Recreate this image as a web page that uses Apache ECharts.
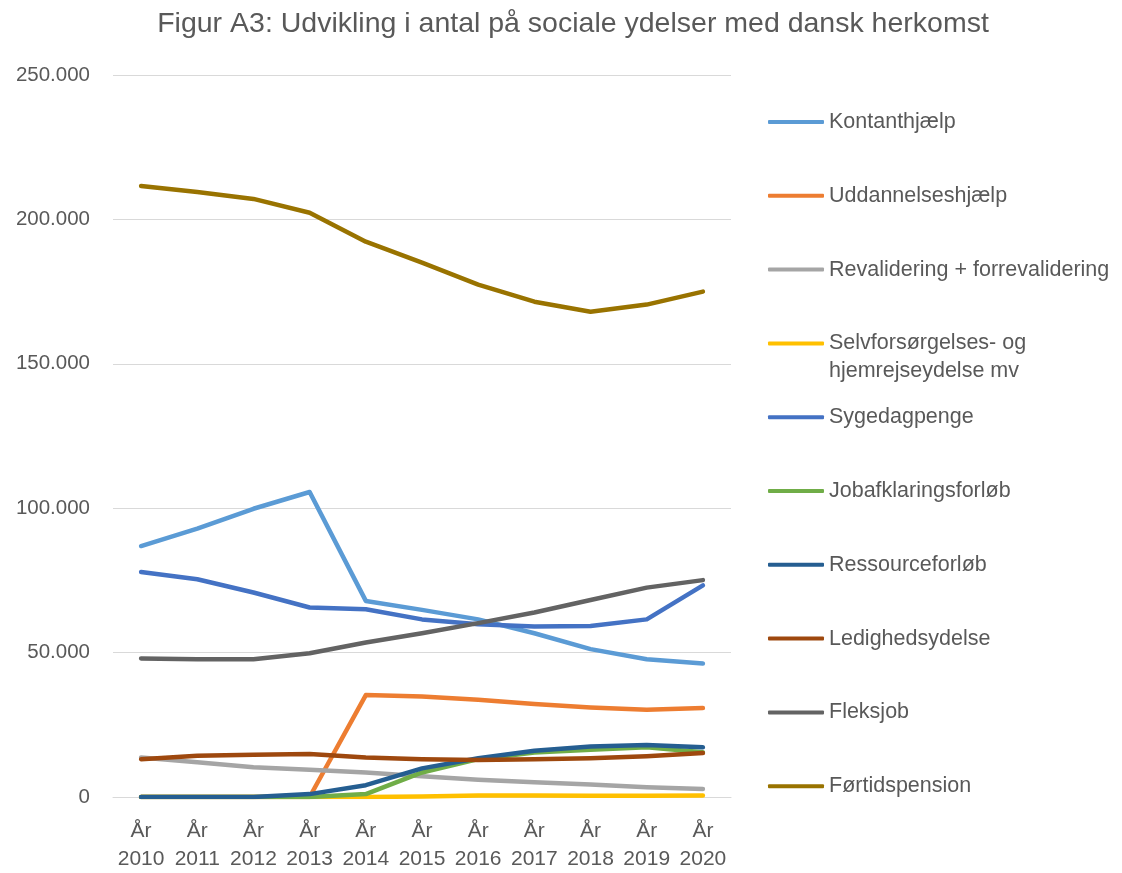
<!DOCTYPE html>
<html>
<head>
<meta charset="utf-8">
<title>Figur A3</title>
<script src="https://cdn.jsdelivr.net/npm/echarts@6/dist/echarts.min.js"></script>
<style>
  html, body { margin: 0; padding: 0; background: #fff; }
  #chart { width: 1122px; height: 873px; }
</style>
</head>
<body>
<div id="chart"></div>
<script>
// kategorier (år)
const years = ['2010', '2011', '2012', '2013', '2014', '2015', '2016', '2017', '2018', '2019', '2020']

// antal personer
const kontanthjaelp = [86900, 92900, 99800, 105600, 67900, 64800, 61500, 56700, 51200, 47700, 46200]
const uddannelseshjaelp = [0, 0, 0, 0, 35300, 34800, 33700, 32200, 31000, 30200, 30800]
const revalidering = [13700, 12000, 10300, 9400, 8500, 7200, 6000, 5100, 4300, 3400, 2800]
const selvforsorgelse = [0, 0, 0, 0, 0, 200, 500, 500, 400, 400, 500]
const sygedagpenge = [77900, 75400, 70800, 65600, 65000, 61500, 59800, 59000, 59200, 61500, 73300]
const jobafklaring = [0, 0, 0, 0, 1000, 8500, 13100, 15400, 16400, 17200, 15500]
const ressourceforlob = [0, 0, 0, 1000, 4100, 9900, 13400, 16000, 17500, 18000, 17200]
const ledighedsydelse = [13100, 14300, 14600, 14900, 13700, 13100, 12800, 13100, 13400, 14100, 15200]
const fleksjob = [48000, 47700, 47700, 49800, 53500, 56700, 60200, 63900, 68200, 72500, 75100]
const fortidspension = [211600, 209500, 207100, 202300, 192300, 185000, 177400, 171500, 168000, 170500, 175000]

const seriesList = [
    { name: 'Kontanthjælp', color: '#5B9BD5', data: kontanthjaelp },
    { name: 'Uddannelseshjælp', color: '#ED7D31', data: uddannelseshjaelp },
    { name: 'Revalidering + forrevalidering', color: '#A5A5A5', data: revalidering },
    { name: 'Selvforsørgelses- og hjemrejseydelse mv', color: '#FFC000', data: selvforsorgelse },
    { name: 'Sygedagpenge', color: '#4472C4', data: sygedagpenge },
    { name: 'Jobafklaringsforløb', color: '#70AD47', data: jobafklaring },
    { name: 'Ressourceforløb', color: '#255E91', data: ressourceforlob },
    { name: 'Ledighedsydelse', color: '#9E480E', data: ledighedsydelse },
    { name: 'Fleksjob', color: '#636363', data: fleksjob },
    { name: 'Førtidspension', color: '#997300', data: fortidspension }
]

const FONT = 'Liberation Sans'
const TXT = '#595959'

// én legend pr. serie, så afstanden bliver ens som i Excel
// den lange tekst får en tom linje foran, så stregen står ud for første linje
const legends = seriesList.map((s, i) => {
    const twoLines = s.name.indexOf('hjemrejse') > -1
    const yc = 122 + i * 73.8
    return {
        orient: 'vertical',
        left: 768,
        top: twoLines ? yc - 42 : yc - 14,
        padding: 0,
        icon: 'roundRect',
        itemWidth: 56,
        itemHeight: 4,
        data: [s.name],
        formatter: name => twoLines ? '\nSelvforsørgelses- og\nhjemrejseydelse mv' : name,
        textStyle: {
            fontFamily: FONT,
            fontSize: 21.5,
            color: TXT,
            lineHeight: 28
        }
    }
})

const chart = echarts.init(document.getElementById('chart'))
chart.setOption({
    animation: false,
    title: {
        text: 'Figur A3: Udvikling i antal på sociale ydelser med dansk herkomst',
        left: 568,
        textAlign: 'center',
        top: 5,
        textStyle: { fontFamily: FONT, fontSize: 28.5, fontWeight: 'normal', color: TXT }
    },
    legend: legends,
    grid: { left: 113, right: 391, top: 75, bottom: 75, containLabel: false },
    xAxis: {
        type: 'category',
        data: years,
        boundaryGap: true,
        axisLine: { lineStyle: { color: '#D9D9D9', width: 1 } },
        axisTick: { show: false },
        axisLabel: {
            formatter: v => 'År\n' + v,
            fontFamily: FONT,
            fontSize: 21,
            color: TXT,
            lineHeight: 28,
            margin: 20,
            interval: 0
        }
    },
    yAxis: {
        type: 'value',
        min: 0,
        max: 250000,
        interval: 50000,
        axisLine: { show: false },
        axisTick: { show: false },
        splitLine: { lineStyle: { color: '#D9D9D9', width: 1 } },
        axisLabel: {
            formatter: v => v === 0 ? '0' : (v / 1000) + '.000',
            fontFamily: FONT,
            fontSize: 20.5,
            color: TXT,
            margin: 23
        }
    },
    series: seriesList.map(s => ({
        name: s.name,
        type: 'line',
        data: s.data,
        showSymbol: false,
        symbol: 'none',
        color: s.color,
        lineStyle: { width: 4.5, color: s.color, cap: 'round', join: 'round' }
    }))
})
</script>
</body>
</html>
